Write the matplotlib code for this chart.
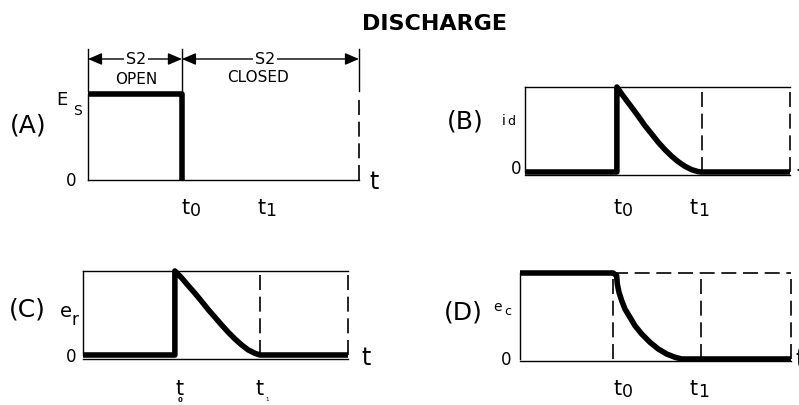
import numpy as np
import matplotlib
matplotlib.use("Agg")
import matplotlib.pyplot as plt

W, H = 799, 406

# event times (panel width = 3 time units)
T0 = 1.04
T1 = 2.0
T_END = 3.0

# (A) source voltage Es
es_t = [0, T0, T0]
es_v = [1.0, 1.0, 0.0]

# (B) discharge current id
id_t = [0, T0, T0, 1.095, 1.151, 1.208, 1.283, 1.358, 1.434, 1.509, 1.585,
        1.661, 1.735, 1.811, 1.887, 1.962, 2.0, T_END]
id_v = [0, 0, 1.0, 0.918, 0.839, 0.761, 0.655, 0.545, 0.447, 0.349, 0.262,
        0.185, 0.121, 0.067, 0.027, 0.004, 0.0, 0.0]

# (C) resistor voltage er
er_t = [0, T0, T0, 1.117, 1.192, 1.268, 1.343, 1.419, 1.494, 1.570, 1.645,
        1.721, 1.797, 1.871, 1.947, 2.004, T_END]
er_v = [0, 0, 1.0, 0.917, 0.825, 0.734, 0.639, 0.539, 0.449, 0.357, 0.270,
        0.190, 0.119, 0.060, 0.020, 0.0, 0.0]

# (D) capacitor voltage ec
ec_t = [0, 1.03, 1.070, 1.077, 1.096, 1.126, 1.162, 1.218, 1.273, 1.347,
        1.439, 1.531, 1.624, 1.716, 1.790, T_END]
ec_v = [1.0, 1.0, 0.969, 0.872, 0.775, 0.678, 0.581, 0.484, 0.387, 0.291,
        0.194, 0.116, 0.058, 0.020, 0.0, 0.0]

THICK = 4.0
THIN = 1.0
DASH = dict(color="black", lw=1.2, dashes=(9, 4), clip_on=False)
SOLID = dict(color="black", lw=THIN, clip_on=False)
BOLD = dict(color="black", lw=THICK, clip_on=False, solid_capstyle="butt",
            solid_joinstyle="round")

fig = plt.figure(figsize=(W / 100, H / 100), dpi=100)
fig.patch.set_facecolor("white")


def panel(left, right, bottom, top):
    ax = fig.add_axes([left / W, 1 - bottom / H, (right - left) / W, (bottom - top) / H])
    ax.set_xlim(0, T_END)
    ax.set_ylim(0, 1)
    ax.axis("off")
    return ax


def ftext(x, y, s, size, **kw):
    fig.text(x / W, 1 - y / H, s, fontsize=size, ha=kw.pop("ha", "center"),
             va=kw.pop("va", "center"), family="DejaVu Sans", **kw)


def tlabel(x, y, sub, size=15, subsize=12.5):
    # "t" with a nearly full size, lowered subscript
    ftext(x, y, "t", size, ha="left")
    ftext(x + 8, y + 3, sub, subsize, ha="left")


fig.text(435 / W, 1 - 24 / H, "DISCHARGE", fontsize=16, fontweight="bold",
         ha="center", va="center", family="DejaVu Sans")

# ---------------- (A)
ax = panel(88, 359, 181, 95)
ax.plot([0, 0], [0, 1], **SOLID)
ax.plot([0, T_END], [0, 0], **SOLID)
ax.plot([T_END, T_END], [0, 1.0], **DASH)
for x in [0, T0, T_END]:
    ax.plot([x, x], [1.03, 1.52], **SOLID)
ax.plot(es_t, es_v, **BOLD)
arrow = dict(arrowstyle="<|-|>,head_length=0.7,head_width=0.3", color="black",
             lw=THIN, shrinkA=0, shrinkB=0, mutation_scale=12)
ax.annotate("", xy=(0, 1.407), xytext=(T0, 1.407), arrowprops=arrow, annotation_clip=False)
ax.annotate("", xy=(T0, 1.407), xytext=(T_END, 1.407), arrowprops=arrow, annotation_clip=False)
wbox = dict(facecolor="white", edgecolor="none", pad=1)
ftext(136, 60, "S2", 11.5, bbox=wbox)
ftext(136, 80, "OPEN", 11)
ftext(265, 59, "S2", 11.5, bbox=wbox)
ftext(258, 78, "CLOSED", 11)
ftext(28, 126, "(A)", 18)
ftext(62, 100, "E", 13)
ftext(78, 111, "S", 10)
ftext(71, 181, "0", 12)
ftext(369, 182, "t", 17, ha="left")
tlabel(182, 208, "0")
tlabel(257, 208, "1")

# ---------------- (B)
ax = panel(525, 790, 173, 88)
ax.plot([0, 0], [0, 1], **SOLID)
ax.plot([0, T_END], [1, 1], **SOLID)
ax.plot([0, T_END], [-0.035, -0.035], **SOLID)
ax.plot([T1, T1], [0, 1], **DASH)
ax.plot([T_END, T_END], [0, 1], **DASH)
ax.plot(id_t, id_v, **BOLD)
ftext(465, 122, "(B)", 18)
ftext(504, 121, "i", 10)
ftext(507, 122, "d", 9, ha="left")
ftext(516, 169, "0", 12)
ftext(796, 176, "t", 17, ha="left")
tlabel(614, 208, "0")
tlabel(690, 208, "1")

# ---------------- (C)
ax = panel(83, 348, 356, 272)
ax.plot([0, 0], [0, 1], **SOLID)
ax.plot([0, T_END], [1, 1], **SOLID)
ax.plot([0, T_END], [-0.045, -0.045], **SOLID)
ax.plot([T1, T1], [0, 1], **DASH)
ax.plot([T_END, T_END], [0, 1], **DASH)
ax.plot(er_t, er_v, **BOLD)
ftext(27, 310, "(C)", 18)
ftext(66, 312, "e", 14)
ftext(75, 320, "r", 12)
ftext(71, 357, "0", 12)
ftext(361, 358, "t", 17, ha="left")
ftext(175, 389, "t", 15, ha="left")
ftext(178, 400, "0", 5, ha="left", fontweight="bold")
ftext(255, 389, "t", 15, ha="left")
ftext(265, 400, "1", 4, ha="left")

# ---------------- (D)
ax = panel(520, 791, 360, 274)
ax.plot([0, 0], [0, 1], **SOLID)
ax.plot([0, T_END], [-0.023, -0.023], **SOLID)
ax.plot([ec_t[1], T_END], [1, 1], **DASH)
for x in [ec_t[1], T1, T_END]:
    ax.plot([x, x], [0, 1], **DASH)
ax.plot(ec_t, ec_v, **BOLD)
ftext(463, 313, "(D)", 18)
ftext(497, 307, "e", 10)
ftext(508, 312, "c", 9)
ftext(506, 360, "0", 12)
ftext(795, 360, "t", 17, ha="left")
tlabel(614, 389, "0")
tlabel(690, 389, "1")

fig.savefig("out.png", dpi=100, facecolor="white")
